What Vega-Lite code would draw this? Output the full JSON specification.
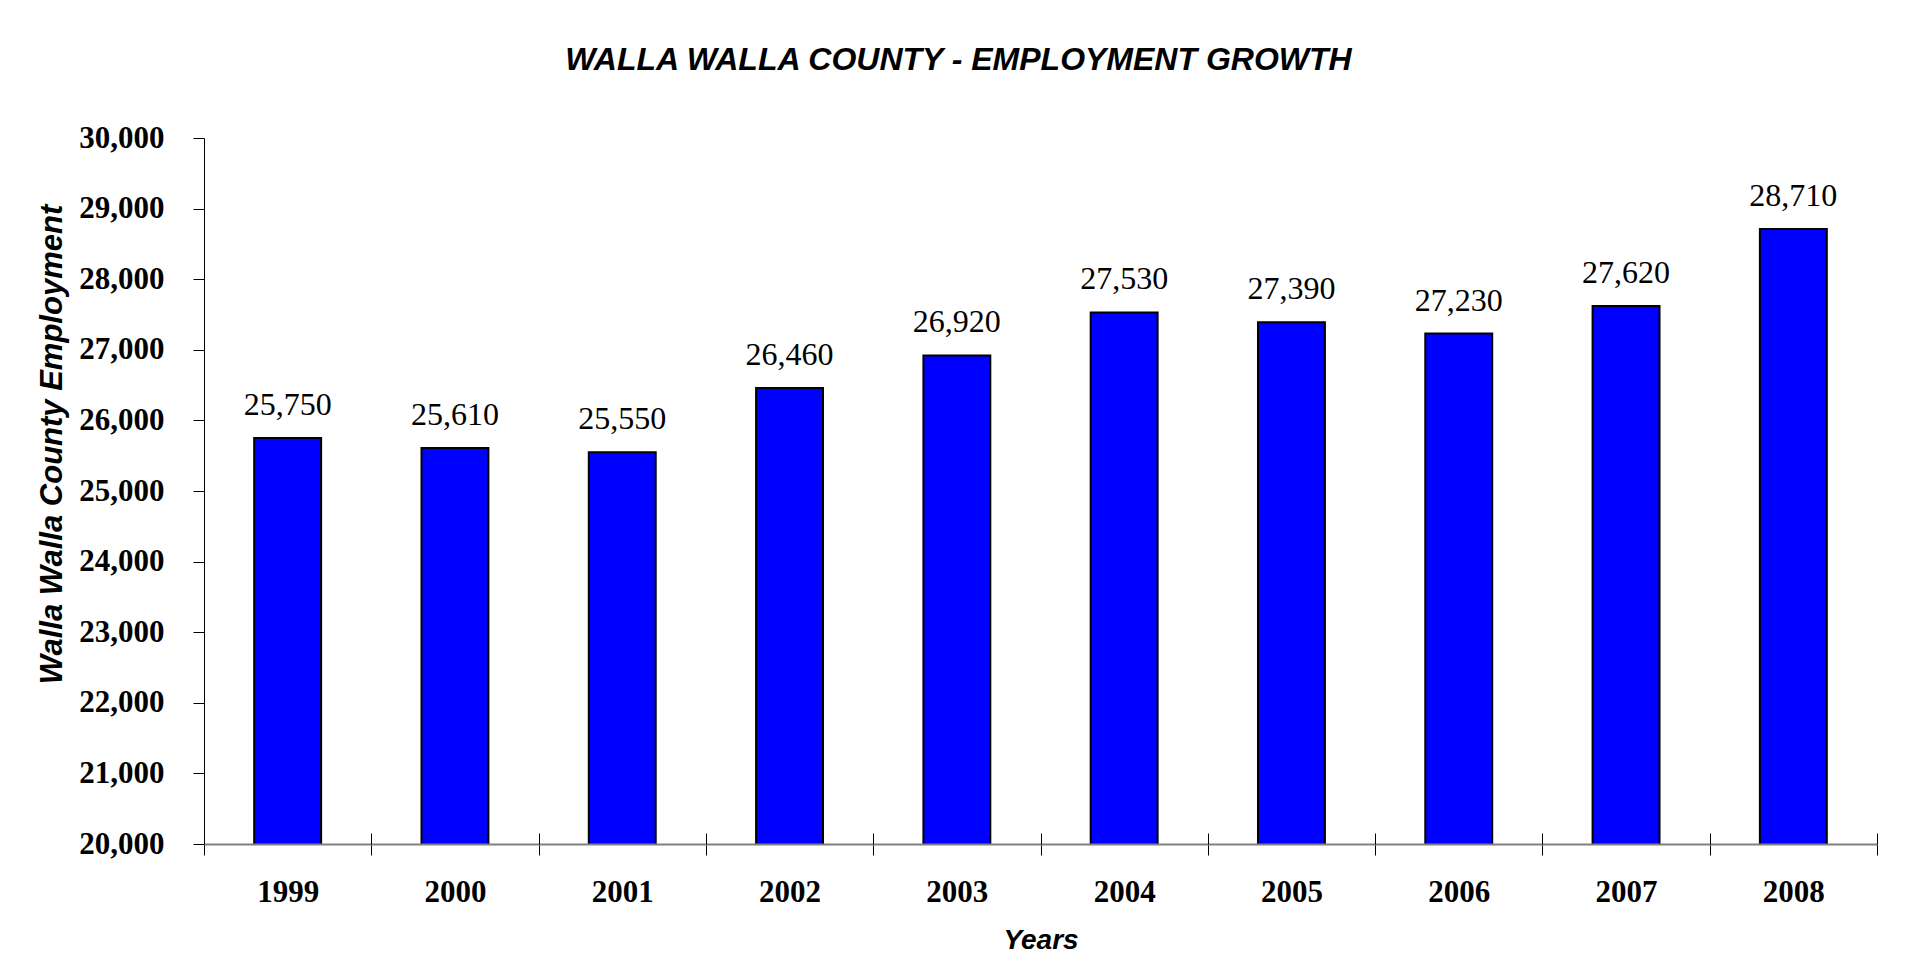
{
  "$schema": "https://vega.github.io/schema/vega-lite/v6.json",
  "width": 1673,
  "height": 706,
  "autosize": {"type": "none"},
  "padding": {"left": 204, "top": 138, "right": 37, "bottom": 125},
  "background": "white",
  "title": {
    "text": "WALLA WALLA COUNTY - EMPLOYMENT GROWTH",
    "font": "Liberation Sans",
    "fontSize": 32,
    "fontWeight": "bold",
    "fontStyle": "italic",
    "color": "black",
    "anchor": "middle",
    "dx": -82,
    "baseline": "alphabetic",
    "offset": 20
  },
  "data": {
    "values": [
      {"year": "1999", "employment": 25750},
      {"year": "2000", "employment": 25610},
      {"year": "2001", "employment": 25550},
      {"year": "2002", "employment": 26460},
      {"year": "2003", "employment": 26920},
      {"year": "2004", "employment": 27530},
      {"year": "2005", "employment": 27390},
      {"year": "2006", "employment": 27230},
      {"year": "2007", "employment": 27620},
      {"year": "2008", "employment": 28710}
    ]
  },
  "config": {"view": {"stroke": null}},
  "resolve": {"axis": {"x": "independent"}},
  "encoding": {
    "y": {
      "field": "employment",
      "type": "quantitative",
      "scale": {"domain": [20000, 30000], "zero": false, "nice": false},
      "axis": {
        "title": "Walla Walla County Employment",
        "titleFont": "Liberation Sans",
        "titleFontSize": 31,
        "titleFontWeight": "bold",
        "titleFontStyle": "italic",
        "titleColor": "black",
        "titleAngle": 270,
        "titleAlign": "center",
        "titleBaseline": "middle",
        "titleX": -152,
        "titleY": 306,
        "values": [20000, 21000, 22000, 23000, 24000, 25000, 26000, 27000, 28000, 29000, 30000],
        "format": ",d",
        "labelFont": "Liberation Serif",
        "labelFontSize": 31,
        "labelFontWeight": "bold",
        "labelColor": "black",
        "labelPadding": 29,
        "tickSize": 11,
        "tickColor": "black",
        "domainColor": "black",
        "grid": false
      }
    }
  },
  "layer": [
    {
      "mark": {"type": "bar", "color": "#0000FF", "stroke": "black", "strokeWidth": 2, "clip": true, "width": {"band": 0.4}},
      "encoding": {
        "x": {
          "field": "year",
          "type": "ordinal",
          "scale": {"paddingInner": 0, "paddingOuter": 0},
          "axis": {
            "orient": "bottom",
            "title": "Years",
            "titleFont": "Liberation Sans",
            "titleFontSize": 28,
            "titleFontWeight": "bold",
            "titleFontStyle": "italic",
            "titleColor": "black",
            "titlePadding": 19,
            "labelFont": "Liberation Serif",
            "labelFontSize": 31,
            "labelFontWeight": "bold",
            "labelColor": "black",
            "labelAngle": 0,
            "labelPadding": 22,
            "ticks": true,
            "tickBand": "extent",
            "tickSize": 11,
            "tickColor": "black",
            "domainColor": "#808080",
            "domainWidth": 2,
            "zindex": 1
          }
        }
      }
    },
    {
      "mark": {
        "type": "text",
        "font": "Liberation Serif",
        "fontSize": 32,
        "color": "black",
        "baseline": "alphabetic",
        "dy": -23
      },
      "encoding": {
        "x": {
          "field": "year",
          "type": "ordinal",
          "axis": {
            "orient": "bottom",
            "title": null,
            "labels": false,
            "domain": false,
            "ticks": true,
            "tickBand": "extent",
            "tickSize": -11,
            "tickColor": "black",
            "offset": 0,
            "zindex": 1
          }
        },
        "text": {"field": "employment", "type": "quantitative", "format": ",d"}
      }
    }
  ]
}
